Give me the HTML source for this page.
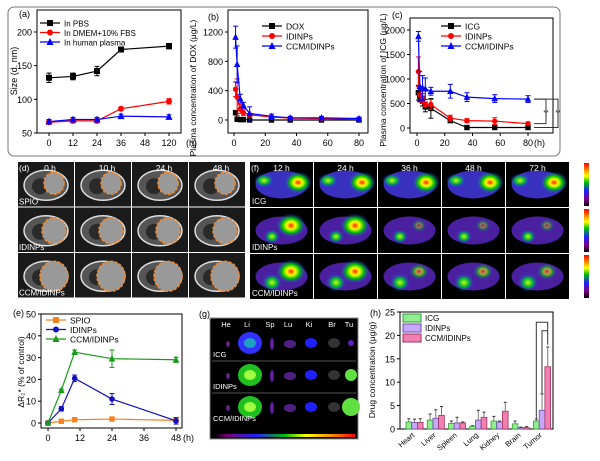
<!DOCTYPE html>
<html><head><meta charset="utf-8"><style>
html,body{margin:0;padding:0;background:#fff}
svg{display:block;font-family:"Liberation Sans",Arial,sans-serif}
</style></head><body>
<svg id="fig" width="600" height="461" viewBox="0 0 600 461" xmlns="http://www.w3.org/2000/svg">
<defs>
<linearGradient id="rainbow" x1="0" x2="1" y1="0" y2="0">
<stop offset="0" stop-color="#000"/><stop offset="0.1" stop-color="#800080"/><stop offset="0.3" stop-color="#2020ff"/><stop offset="0.5" stop-color="#00c000"/><stop offset="0.65" stop-color="#ffff00"/><stop offset="0.85" stop-color="#ff8000"/><stop offset="1" stop-color="#ff0000"/>
</linearGradient>
<linearGradient id="rainbowV" x1="0" x2="0" y1="1" y2="0">
<stop offset="0" stop-color="#000"/><stop offset="0.15" stop-color="#800080"/><stop offset="0.35" stop-color="#2020ff"/><stop offset="0.55" stop-color="#00c000"/><stop offset="0.7" stop-color="#ffff00"/><stop offset="0.85" stop-color="#ff8000"/><stop offset="1" stop-color="#ff0000"/>
</linearGradient>
<radialGradient id="hot"><stop offset="0" stop-color="#ff2000"/><stop offset="0.3" stop-color="#ffff00"/><stop offset="0.6" stop-color="#00c000"/><stop offset="1" stop-color="#3030ff" stop-opacity="0"/></radialGradient>
<radialGradient id="warm"><stop offset="0" stop-color="#c0ff00"/><stop offset="0.5" stop-color="#00b040"/><stop offset="1" stop-color="#3030ff" stop-opacity="0"/></radialGradient>
</defs>
<rect x="8" y="7" width="552" height="149" rx="6" fill="none" stroke="#777" stroke-width="1"/>
<g id="gA"></g>
<g id="gB"></g>
<g id="gC"></g>
<g id="gD"></g>
<g id="gF"></g>
<g id="gE"></g>
<g id="gG"></g>
<g id="gH"></g>
</svg>
<script>
// ---- Panel (a) data ----
const aCats = ["0","12","24","36","48","120"];
const aPBS = [132,134,142,174,null,179];
const aDMEM = [66,68,68,86,null,97];
const aPlasma = [67,70,70,75,null,74];
const aErr = [7,5,7,3,null,4];
const aTicks = [50,100,150,200];
// ---- Panel (b) data ----
const bTimes = [1,2,4,6,10,24,36,56,80];
const bDOX = [100,10,5,5,0,0,0,0,0];
const bIDI = [420,310,150,100,70,40,25,20,10];
const bCCM = [1130,760,290,200,90,50,30,30,20];
const bTicks = [0,400,800,1200];
const bXTicks = [0,20,40,60,80];
// ---- Panel (c) data ----
const cTimes = [1,2,4,6,10,24,36,56,80];
const cICG = [720,650,550,430,400,150,10,10,10];
const cIDI = [1150,680,600,480,480,200,150,140,90];
const cCCM = [1870,850,820,800,750,750,630,600,590];
const cTicks = [0,500,1000,1500,2000];
const cXTicks = [0,20,40,60,80];
// ---- Panel (e) data ----
const eTimes = [0,5,10,24,48];
const eSPIO = [0,0.8,1.5,1.8,1.2];
const eIDI = [0,6.5,20.5,11,1];
const eCCM = [0,15,32.5,29.5,29];
const eTicks = [0,10,20,30,40,50];
const eXTicks = [0,12,24,36,48];
// ---- Panel (h) data ----
const hCats = ["Heart","Liver","Spleen","Lung","Kidney","Brain","Tumor"];
const hICG = [1.5,1.9,1.2,0.6,1.7,1.1,1.7];
const hIDI = [1.4,2.3,1.3,1.9,1.5,0.3,4.0];
const hCCM = [1.4,2.9,1.3,2.5,3.8,0.3,13.3];
const hErrICG = [0.7,1.3,0.5,0.1,1.0,0.6,0.4];
const hErrIDI = [0.7,1.8,1.2,2.1,0.2,0.1,3.5];
const hErrCCM = [0.8,1.9,0.2,1.1,1.9,0.2,4.2];
const hTicks = [0,5,10,15,20,25];

const NS="http://www.w3.org/2000/svg";
function mk(parent,tag,attrs,name,text){
  const e=document.createElementNS(NS,tag);
  for(const k in attrs) e.setAttribute(k,attrs[k]);
  
  
  if(text!==undefined) e.textContent=text;
  parent.appendChild(e); return e;
}
function marker(g,type,x,y,c,s,name){
  if(type==='sq') mk(g,'rect',{x:x-s,y:y-s,width:2*s,height:2*s,fill:c},name);
  else if(type==='ci') mk(g,'circle',{cx:x,cy:y,r:s,fill:c},name);
  else mk(g,'polygon',{points:`${x},${y-s-1} ${x-s-0.5},${y+s} ${x+s+0.5},${y+s}`,fill:c},name);
}
function frame(g,x0,y0,x1,y1,name){
  mk(g,'rect',{x:x0,y:y0,width:x1-x0,height:y1-y0,fill:'none',stroke:'#000','stroke-width':1},name);
}
function yAxis(g,ticks,ys,x0,fs,name){
  ticks.forEach(t=>{const y=ys(t);
    mk(g,'line',{x1:x0-3,x2:x0,y1:y,y2:y,stroke:'#000'},name+'-tick');
    mk(g,'text',{x:x0-5,y:y+3.5,'font-size':fs,'text-anchor':'end'},name+'-label',t);});
}
function xAxisT(g,ticks,xs,y1,fs,name,labels){
  ticks.forEach((t,i)=>{const x=xs(t);
    mk(g,'line',{x1:x,x2:x,y1:y1,y2:y1+3,stroke:'#000'},name+'-tick');
    mk(g,'text',{x:x,y:y1+13,'font-size':fs,'text-anchor':'middle'},name+'-label',labels?labels[i]:t);});
}
function series(g,xs,ys,xv,yv,c,type,s,err,name){
  let pts=[];xv.forEach((x,i)=>{if(yv[i]!==null)pts.push(xs(x)+','+ys(yv[i]));});
  mk(g,'polyline',{points:pts.join(' '),fill:'none',stroke:c,'stroke-width':1.2},name+'-line');
  xv.forEach((x,i)=>{if(yv[i]===null)return;const X=xs(x),Y=ys(yv[i]);
    if(err){const e=err[i];
      if(e){mk(g,'line',{x1:X,x2:X,y1:ys(yv[i]+e),y2:ys(yv[i]-e),stroke:c},name+'-error');
      mk(g,'line',{x1:X-2.5,x2:X+2.5,y1:ys(yv[i]+e),y2:ys(yv[i]+e),stroke:c},name+'-error-cap');
      mk(g,'line',{x1:X-2.5,x2:X+2.5,y1:ys(yv[i]-e),y2:ys(yv[i]-e),stroke:c},name+'-error-cap');}}
    marker(g,type,X,Y,c,s,name+'-point');});
}
function legend(g,x,y,dy,items,fs){
  items.forEach((it,i)=>{const Y=y+i*dy;
    mk(g,'line',{x1:x,x2:x+20,y1:Y,y2:Y,stroke:it[1],'stroke-width':1.2},'legend-line');
    marker(g,it[2],x+10,Y,it[1],3,'legend-marker');
    mk(g,'text',{x:x+24,y:Y+3.5,'font-size':fs},'legend-entry',it[0]);});
}
// ---------- (a) ----------
(function(){const g=document.getElementById('gA');
  const xs=i=>49+i*24, ys=v=>133-(v-50)*101/150;
  frame(g,37,10,181,133,'plot-a-frame');
  yAxis(g,aTicks,ys,37,9,'y-axis-a');
  xAxisT(g,[0,1,2,3,4,5],xs,133,9,'x-axis-a',aCats);
  mk(g,'text',{x:186,y:146,'font-size':9},'x-unit-a','(h)');
  mk(g,'text',{x:17,y:71,'font-size':9,transform:'rotate(-90 17 71)','text-anchor':'middle'},'y-axis-title-a','Size (d. nm)');
  mk(g,'text',{x:19,y:17,'font-size':9},'panel-label-a','(a)');
  const idx=[0,1,2,3,4,5];
  series(g,xs,ys,idx,aPBS,'#000','sq',3,aErr,'pbs');
  series(g,xs,ys,idx,aDMEM,'#f00','ci',3,[3,3,3,2,null,4],'dmem');
  series(g,xs,ys,idx,aPlasma,'#00f','tri',3,[3,3,3,3,null,3],'plasma');
  legend(g,40,23,9.5,[['In PBS','#000','sq'],['In DMEM+10% FBS','#f00','ci'],['In human plasma','#00f','tri']],8);
})();
// ---------- (b) ----------
(function(){const g=document.getElementById('gB');
  const xs=t=>234+t*125/80, ys=v=>120-v*88/1200;
  frame(g,228,10,368,133,'plot-b-frame');
  yAxis(g,bTicks,ys,228,9,'y-axis-b');
  xAxisT(g,bXTicks,xs,133,9,'x-axis-b');
  mk(g,'text',{x:196,y:88,'font-size':8.5,transform:'rotate(-90 196 88)','text-anchor':'middle'},'y-axis-title-b','Plasma concentration of DOX (μg/L)');
  mk(g,'text',{x:208,y:20,'font-size':9},'panel-label-b','(b)');
  series(g,xs,ys,bTimes,bDOX,'#000','sq',2.7,[20,5,5,5,5,5,5,5,5],'dox');
  series(g,xs,ys,bTimes,bIDI,'#f00','ci',2.7,[100,250,60,40,20,15,10,10,10],'idinps-b');
  series(g,xs,ys,bTimes,bCCM,'#00f','tri',2.7,[150,250,60,40,90,30,20,20,20],'ccm-b');
  legend(g,262,26,10,[['DOX','#000','sq'],['IDINPs','#f00','ci'],['CCM/IDINPs','#00f','tri']],8.5);
})();
// ---------- (c) ----------
(function(){const g=document.getElementById('gC');
  const xs=t=>417+t*111/80, ys=v=>128-v*98/2000;
  frame(g,410,18,553,133,'plot-c-frame');
  yAxis(g,cTicks,ys,410,9,'y-axis-c');
  xAxisT(g,cXTicks,xs,133,9,'x-axis-c');
  mk(g,'text',{x:534,y:146,'font-size':9},'x-unit-c','(h)');
  mk(g,'text',{x:386,y:80,'font-size':8.5,transform:'rotate(-90 386 80)','text-anchor':'middle'},'y-axis-title-c','Plasma concentration of ICG (μg/L)');
  mk(g,'text',{x:392,y:18,'font-size':9},'panel-label-c','(c)');
  series(g,xs,ys,cTimes,cICG,'#000','sq',2.7,[150,100,100,100,200,30,20,20,20],'icg-c');
  series(g,xs,ys,cTimes,cIDI,'#f00','ci',2.7,[300,150,100,50,100,60,40,70,30],'idinps-c');
  series(g,xs,ys,cTimes,cCCM,'#00f','tri',2.7,[100,300,250,220,80,140,90,80,70],'ccm-c');
  legend(g,441,26,10,[['ICG','#000','sq'],['IDINPs','#f00','ci'],['CCM/IDINPs','#00f','tri']],8.5);
  const xe=xs(80)+6;
  mk(g,'polyline',{points:`${xe},${ys(590)} ${xe+12},${ys(590)} ${xe+12},${ys(90)} ${xe},${ys(90)}`,fill:'none',stroke:'#333'},'significance-bracket');
  mk(g,'polyline',{points:`${xe},${ys(590)} ${xe+24},${ys(590)} ${xe+24},${ys(10)} ${xe},${ys(10)}`,fill:'none',stroke:'#333'},'significance-bracket');
  mk(g,'text',{x:xe+12,y:ys(330)+3,'font-size':7,'text-anchor':'middle',fill:'#333'},'significance-mark','**');
  mk(g,'text',{x:xe+24,y:ys(330)+3,'font-size':7,'text-anchor':'middle',fill:'#333'},'significance-mark','**');
})();
// ---------- (d) MRI ----------
(function(){const g=document.getElementById('gD');
  const times=["0 h","10 h","24 h","48 h"], rows=["SPIO","IDINPs","CCM/IDINPs"];
  const x0=18,y0=162,w=56,h=44.5;
  rows.forEach((r,ri)=>times.forEach((t,ci)=>{
    const X=x0+ci*(w+1),Y=y0+ri*(h+1);
    mk(g,'rect',{x:X,y:Y,width:w,height:h,fill:'#1a1a1a'},'mri-tile');
    mk(g,'ellipse',{cx:X+w/2,cy:Y+h/2+1,rx:22,ry:15,fill:'#555',stroke:'#ddd','stroke-width':1.5},'mri-body');
    mk(g,'ellipse',{cx:X+w/2-6,cy:Y+h/2+2,rx:8,ry:8,fill:'#2a2a2a'},'mri-organ');
    mk(g,'ellipse',{cx:X+w/2+8,cy:Y+h/2-1+(ri?2:0),rx:10+ri*2,ry:11+ri*2,fill:'#999',stroke:'#f08a30','stroke-width':1.5,'stroke-dasharray':'3 1.5'},'tumor-outline');
    if(ri===0) mk(g,'text',{x:X+w/2+4,y:Y+9,'font-size':8.5,fill:'#fff','text-anchor':'middle'},'time-label',t);
  }));
  rows.forEach((r,ri)=>mk(g,'text',{x:x0+1,y:y0+ri*(h+1)+h-2,'font-size':8,fill:'#fff'},'row-label',r));
  mk(g,'text',{x:19,y:171,'font-size':8.5,fill:'#fff'},'panel-label-d','(d)');
})();
// ---------- (f) fluorescence ----------
(function(){const g=document.getElementById('gF');
  const times=["12 h","24 h","36 h","48 h","72 h"], rows=["ICG","IDINPs","CCM/IDINPs"];
  const x0=250,y0=162,w=63,h=45;
  rows.forEach((r,ri)=>times.forEach((t,ci)=>{
    const X=x0+ci*(w+1),Y=y0+ri*(h+1);
    mk(g,'rect',{x:X,y:Y,width:w,height:h,fill:'#000'},'fluor-tile');
    mk(g,'ellipse',{cx:X+w/2,cy:Y+h/2,rx:26,ry:14,fill:ri===0?'#3a30c0':'#4a20a0'},'mouse-body');
    if(ri===0){mk(g,'ellipse',{cx:X+w-15,cy:Y+h/2-2,rx:14,ry:11,fill:'url(#hot)'},'signal');
      mk(g,'ellipse',{cx:X+14,cy:Y+h/2-4,rx:10,ry:7,fill:'url(#warm)'},'signal');}
    else { const k=ri===1?(ci<2?1:0.4):(ci<2?1:0.6);
      mk(g,'ellipse',{cx:X+w-22,cy:Y+h/2-5,rx:12*k+3,ry:9*k+3,fill:'url(#hot)','fill-opacity':k},'signal');
      mk(g,'ellipse',{cx:X+22,cy:Y+h/2+6,rx:6+ri*2,ry:5+ri*2,fill:'url(#warm)'},'tumor-signal');}
    if(ri===0) mk(g,'text',{x:X+w/2,y:Y+9,'font-size':8.5,fill:'#fff','text-anchor':'middle'},'time-label',t);
  }));
  rows.forEach((r,ri)=>{mk(g,'text',{x:x0+2,y:y0+ri*(h+1)+h-3,'font-size':8,fill:'#fff'},'row-label',r);
    mk(g,'rect',{x:584,y:y0+ri*(h+1)+1,width:5,height:h-2,fill:'url(#rainbowV)'},'color-bar');});
  mk(g,'text',{x:251,y:171,'font-size':8.5,fill:'#fff'},'panel-label-f','(f)');
})();
// ---------- (e) ----------
(function(){const g=document.getElementById('gE');
  const xs=t=>48+t*128/48, ys=v=>423-v*109/50;
  frame(g,41,314,182,428,'plot-e-frame');
  yAxis(g,eTicks,ys,41,9,'y-axis-e');
  xAxisT(g,eXTicks,xs,428,9,'x-axis-e');
  mk(g,'text',{x:183,y:441,'font-size':9},'x-unit-e','(h)');
  mk(g,'text',{x:13,y:316,'font-size':9},'panel-label-e','(e)');
  mk(g,'text',{x:24,y:372,'font-size':8.5,transform:'rotate(-90 24 372)','text-anchor':'middle'},'y-axis-title-e','ΔR₂* (% of control)');
  series(g,xs,ys,eTimes,eSPIO,'#f5821f','sq',2.7,null,'spio');
  series(g,xs,ys,eTimes,eIDI,'#1010c0','ci',2.8,[0.5,1,1.5,2.5,1.5],'idinps-e');
  series(g,xs,ys,eTimes,eCCM,'#1a9a1a','tri',2.8,[0.5,0.5,1,4,1.2],'ccm-e');
  legend(g,46,320,9.5,[['SPIO','#f5821f','sq'],['IDINPs','#1010c0','ci'],['CCM/IDINPs','#1a9a1a','tri']],8.5);
})();
// ---------- (g) organs ----------
(function(){const g=document.getElementById('gG');
  mk(g,'rect',{x:210,y:318,width:148,height:121,fill:'#000',stroke:'#888'},'organ-image');
  const org=["He","Li","Sp","Lu","Ki","Br","Tu"], ox=[228,249,272,290,311,334,351];
  org.forEach((o,i)=>mk(g,'text',{x:ox[i]-2,y:327,'font-size':7.5,fill:'#fff','text-anchor':'middle'},'organ-label',o));
  const rows=["ICG","IDINPs","CCM/IDINPs"];
  rows.forEach((r,ri)=>{const Y=343+ri*32;
    mk(g,'ellipse',{cx:250,cy:Y,rx:12,ry:11,fill:ri?'#20c020':'#3030ff'},'liver');
    mk(g,'ellipse',{cx:250,cy:Y,rx:6,ry:5,fill:ri?'#a0ff40':'#20a0c0'},'liver-core');
    mk(g,'ellipse',{cx:228,cy:Y+1,rx:2,ry:3,fill:'#602080'},'heart');
    mk(g,'ellipse',{cx:272,cy:Y+1,rx:2,ry:6,fill:'#6020a0'},'spleen');
    mk(g,'ellipse',{cx:290,cy:Y+1,rx:6,ry:4,fill:'#502080'},'lung');
    mk(g,'ellipse',{cx:311,cy:Y,rx:6,ry:5,fill:'#2020ff'},'kidney');
    mk(g,'ellipse',{cx:334,cy:Y,rx:6,ry:5,fill:'#333'},'brain');
    mk(g,'ellipse',{cx:351,cy:Y,rx:3+ri*3,ry:3+ri*3,fill:ri?'#60e040':'#6020c0'},'tumor');
    mk(g,'text',{x:213,y:Y+14,'font-size':7.5,fill:'#fff'},'row-label',r);
    if(ri<2) mk(g,'line',{x1:212,x2:356,y1:Y+18,y2:Y+18,stroke:'#555'},'row-divider');
  });
  mk(g,'rect',{x:214,y:434,width:141,height:3,fill:'url(#rainbow)'},'color-bar');
  mk(g,'text',{x:199,y:317,'font-size':9},'panel-label-g','(g)');
})();
// ---------- (h) ----------
(function(){const g=document.getElementById('gH');
  const ys=v=>429-v*117/25, gw=153/7.2, x0=406;
  frame(g,400,312,553,429,'plot-h-frame');
  yAxis(g,hTicks,ys,400,9,'y-axis-h');
  mk(g,'text',{x:375,y:370,'font-size':8.5,transform:'rotate(-90 375 370)','text-anchor':'middle'},'y-axis-title-h','Drug concentration (μg/g)');
  mk(g,'text',{x:370,y:316,'font-size':9},'panel-label-h','(h)');
  const sets=[[hICG,hErrICG,'#90ee90','#3a9a3a'],[hIDI,hErrIDI,'#c8a8f8','#6a4aaa'],[hCCM,hErrCCM,'#f080b0','#a03060']];
  hCats.forEach((c,i)=>{const gx=x0+i*gw;
    sets.forEach((s,k)=>{const x=gx+k*5.7,v=s[0][i];
      mk(g,'rect',{x:x,y:ys(v),width:5.7,height:429-ys(v),fill:s[2],stroke:s[3],'stroke-width':0.8},'bar-'+c.toLowerCase());
      const e=s[1][i],cx=x+2.85;
      mk(g,'line',{x1:cx,x2:cx,y1:ys(v+e),y2:ys(v),stroke:'#777'},'error-bar');
      mk(g,'line',{x1:cx-1.5,x2:cx+1.5,y1:ys(v+e),y2:ys(v+e),stroke:'#333'},'error-cap');});
    const lx=gx+9;
    mk(g,'text',{x:lx,y:436,'font-size':7.5,'text-anchor':'end',transform:`rotate(-40 ${lx} 436)`},'x-axis-label',c);
  });
  const tx=x0+6*gw;
  mk(g,'polyline',{points:`${tx+2.8},${ys(2.2)} ${tx+2.8},${ys(22.8)} ${tx+14.2},${ys(22.8)} ${tx+14.2},${ys(18)}`,fill:'none',stroke:'#333'},'significance-bracket');
  mk(g,'polyline',{points:`${tx+8.5},${ys(7.6)} ${tx+8.5},${ys(21)} ${tx+14.2},${ys(21)}`,fill:'none',stroke:'#333'},'significance-bracket');
  [['ICG','#90ee90','#3a9a3a'],['IDINPs','#c8a8f8','#6a4aaa'],['CCM/IDINPs','#f080b0','#a03060']].forEach((l,i)=>{
    const Y=314+i*10;
    mk(g,'rect',{x:403,y:Y,width:18,height:8,fill:l[1],stroke:l[2]},'legend-swatch');
    mk(g,'text',{x:425,y:Y+7,'font-size':8},'legend-entry',l[0]);});
})();
</script>
</body></html>
